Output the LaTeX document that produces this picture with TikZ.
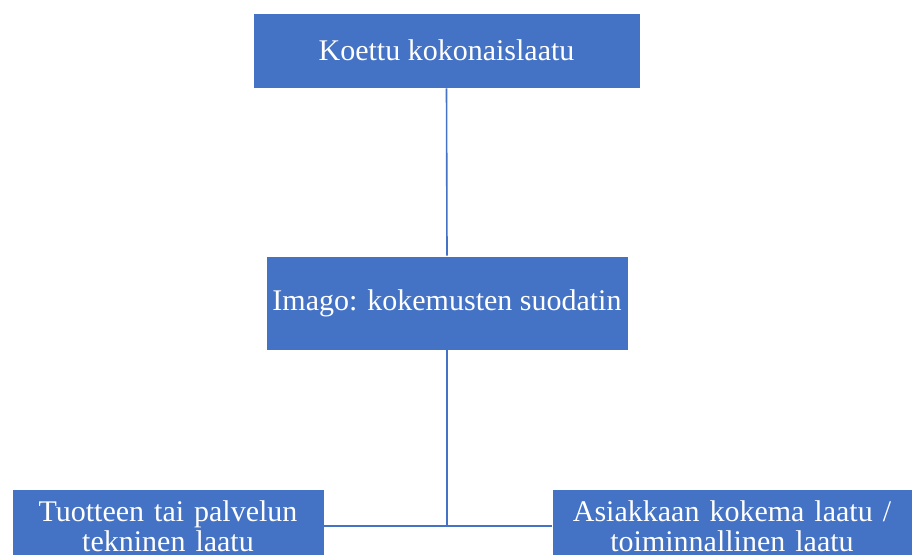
\documentclass[tikz,border=0pt]{standalone}
\usepackage{fontspec}
\setmainfont{Liberation Serif}
\definecolor{laatublue}{HTML}{4472C4}

\begin{document}
\begin{tikzpicture}[x=1pt,y=1pt,
    laatubox/.style={fill=laatublue, draw=white, line width=0.8pt, text=white,
      font=\fontsize{30}{30}\selectfont, align=center, inner sep=0pt},
    yhteys/.style={draw=laatublue, line width=1.6pt}]
    \useasboundingbox (0,0) rectangle (920,554);
    \node [laatubox, minimum width=387, minimum height=75] (koettu) at (446.5,503.5) {Koettu kokonaislaatu};
    \node [laatubox, minimum width=362, minimum height=94] (imago) at (447,251) {Imago: kokemusten suodatin};
    \node [laatubox, minimum width=312, minimum height=74, text width=312] (tekninen) at (168,28) {Tuotteen tai palvelun\\tekninen laatu};
    \node [laatubox, minimum width=360, minimum height=74, text width=360] (toiminnallinen) at (732,28) {Asiakkaan kokema laatu /\\toiminnallinen laatu};
    % yhteydet
    \draw [yhteys] (koettu.south) -- (imago.north);
    \draw [yhteys] (tekninen.east) -- (toiminnallinen.west);
    \draw [yhteys] (imago.south) -- (imago.south |- tekninen.east);
\end{tikzpicture}
\end{document}
